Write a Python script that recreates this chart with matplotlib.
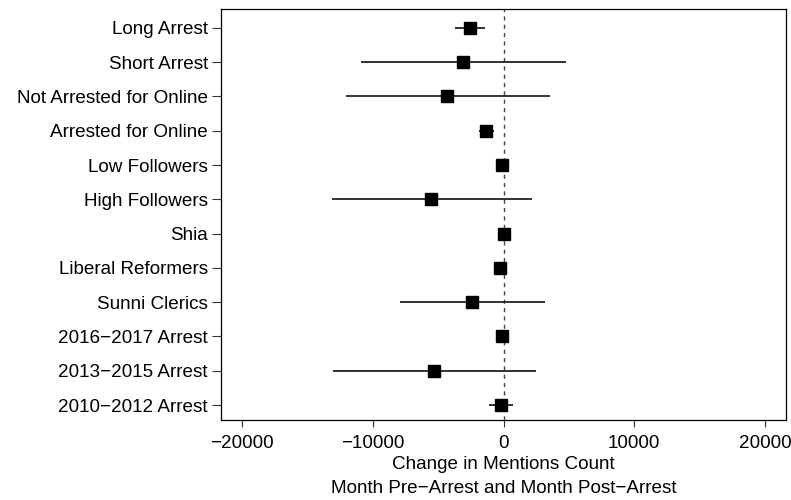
import numpy as np
import matplotlib
matplotlib.use("Agg")
import matplotlib.pyplot as plt

plt.rcParams['font.family'] = ['Liberation Sans', 'DejaVu Sans']

# categories, top to bottom
labels = ["Long Arrest", "Short Arrest", "Not Arrested for Online",
          "Arrested for Online", "Low Followers", "High Followers", "Shia",
          "Liberal Reformers", "Sunni Clerics", "2016\u22122017 Arrest",
          "2013\u22122015 Arrest", "2010\u22122012 Arrest"]

# point estimates and interval bounds
est = [-2545, -3082, -4326, -1329, -113, -5541, 57, -254, -2403, -113, -5315, -198]
lower = [-3675, -10913, -12072, -1894, -113, -13147, 57, -254, -7888, -113, -13005, -1103]
upper = [-1414, 4750, 3534, -707, -113, 2149, 57, -254, 3167, -113, 2460, 763]

xticks = [-20000, -10000, 0, 10000, 20000]

n = len(labels)
ypos = np.arange(n, 0, -1)

fig = plt.figure(figsize=(7.91, 5.0), dpi=100)
ax = fig.add_axes([0.2794, 0.16, 0.9937 - 0.2794, 0.983 - 0.16])

ax.axvline(0, color='#444444', lw=1, linestyle=(0, (3, 3)), zorder=1)
ax.hlines(ypos, lower, upper, color='#222222', lw=1.3, zorder=2)
ax.plot(est, ypos, 's', color='black', markersize=8.5, zorder=3)

ax.set_xlim(-21600, 21600)
ax.set_ylim(0.563, 12.565)
ax.set_yticks(ypos)
ax.set_yticklabels(labels, fontsize=13.6)
ax.set_xticks(xticks)
ax.set_xticklabels([str(v).replace('-', '\u2212') for v in xticks], fontsize=13.6)
ax.tick_params(axis='both', direction='out', width=0.8, color='#333333')
ax.tick_params(axis='y', length=6.5, pad=3)
ax.tick_params(axis='x', length=5, pad=6)
ax.set_xlabel("Change in Mentions Count\nMonth Pre\u2212Arrest and Month Post\u2212Arrest",
              fontsize=13.6, linespacing=1.5, labelpad=3)
for s in ax.spines.values():
    s.set_linewidth(0.9)

fig.savefig("out.png", dpi=100)
